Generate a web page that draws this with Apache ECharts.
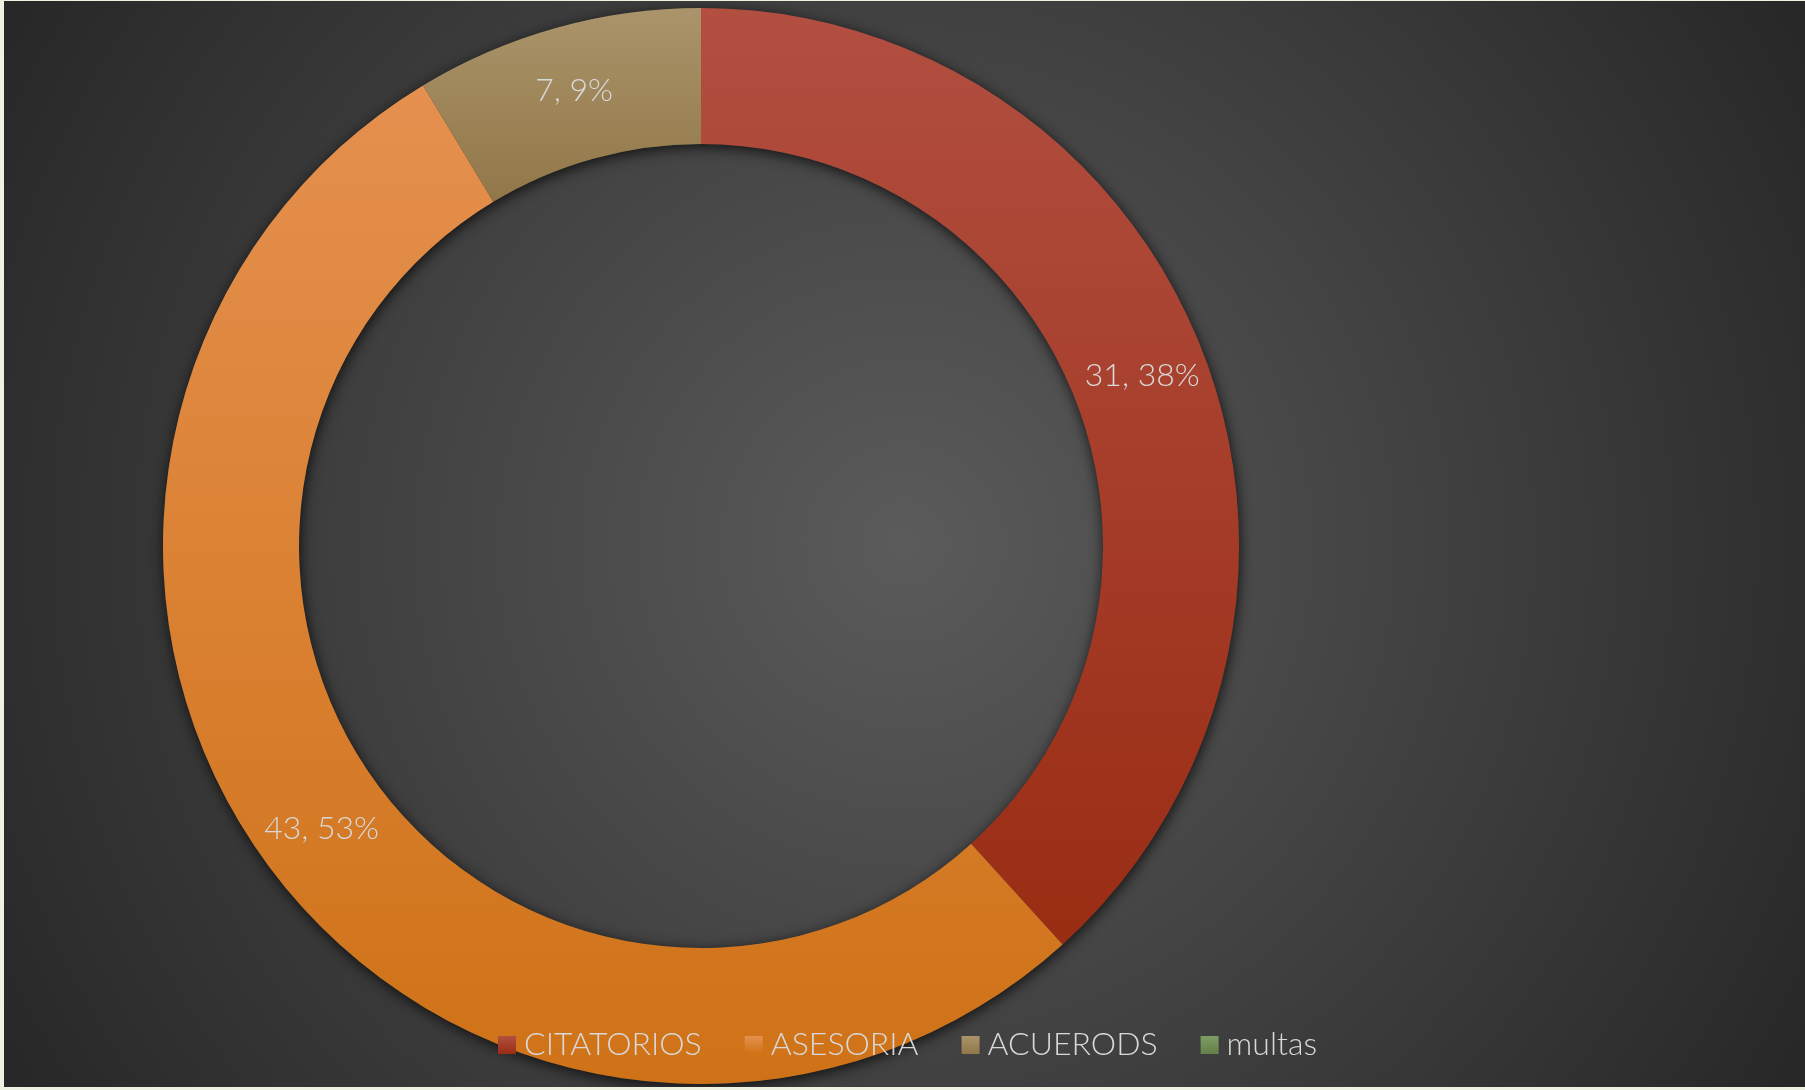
<!DOCTYPE html>
<html>
<head>
<meta charset="utf-8">
<script src="https://cdn.jsdelivr.net/npm/echarts@6/dist/echarts.min.js"></script>
<style>
  html, body { margin: 0; padding: 0; background: #eef2e0; }
  #chart { position: absolute; left: 4px; top: 1px; width: 1801px; height: 1086px; }
</style>
</head>
<body>
<div id="chart"></div>
<script>
// datos del grafico
const categories = ['CITATORIOS', 'ASESORIA', 'ACUERODS', 'multas'];
const values = [31, 43, 7, 0];

// colores (arriba -> abajo)
const topColors = ['#b24f41', '#e5904f', '#ab946b', '#7d9c63'];
const bottomColors = ['#9a2c13', '#cf7217', '#917748', '#65804b'];

const chart = echarts.init(document.getElementById('chart'));

const pieData = categories.map((name, i) => ({
  name: name,
  value: values[i],
  itemStyle: {
    color: new echarts.graphic.LinearGradient(0, 0, 0, 1, [
      { offset: 0, color: topColors[i] },
      { offset: 1, color: bottomColors[i] }
    ])
  }
}));

const option = {
  backgroundColor: {
    type: 'radial', x: 0.5, y: 0.5, r: 0.95,
    colorStops: [
      { offset: 0, color: '#5b5b5b' },
      { offset: 1, color: '#282828' }
    ]
  },
  animation: false,
  legend: {
    left: 489,
    top: 1023,
    itemWidth: 18,
    itemHeight: 18,
    itemGap: 43,
    icon: 'rect',
    data: categories,
    textStyle: {
      color: '#d9d9d9', fontSize: 32, fontFamily: 'Lato', fontWeight: 300,
      padding: [0, 0, 0, 3]
    }
  },
  series: [
    {
      // anillo de sombra detras
      type: 'pie',
      silent: true,
      center: [697, 545],
      radius: [402, 538],
      label: { show: false },
      labelLine: { show: false },
      itemStyle: {
        color: '#3a3a3a',
        shadowBlur: 14,
        shadowColor: 'rgba(0,0,0,0.75)',
        shadowOffsetX: 1,
        shadowOffsetY: 3
      },
      data: [{ value: 1, name: '' }]
    },
    {
      type: 'pie',
      center: [697, 545],
      radius: [402, 538],
      startAngle: 90,
      clockwise: true,
      percentPrecision: 0,
      label: {
        show: true,
        position: 'inside',
        color: '#d9d9d9',
        fontSize: 32,
        fontFamily: 'Lato',
        fontWeight: 300,
        formatter: (p) => p.value ? p.value + ', ' + p.percent + '%' : ''
      },
      labelLine: { show: false },
      data: pieData
    }
  ]
};

chart.setOption(option);
</script>
</body>
</html>
